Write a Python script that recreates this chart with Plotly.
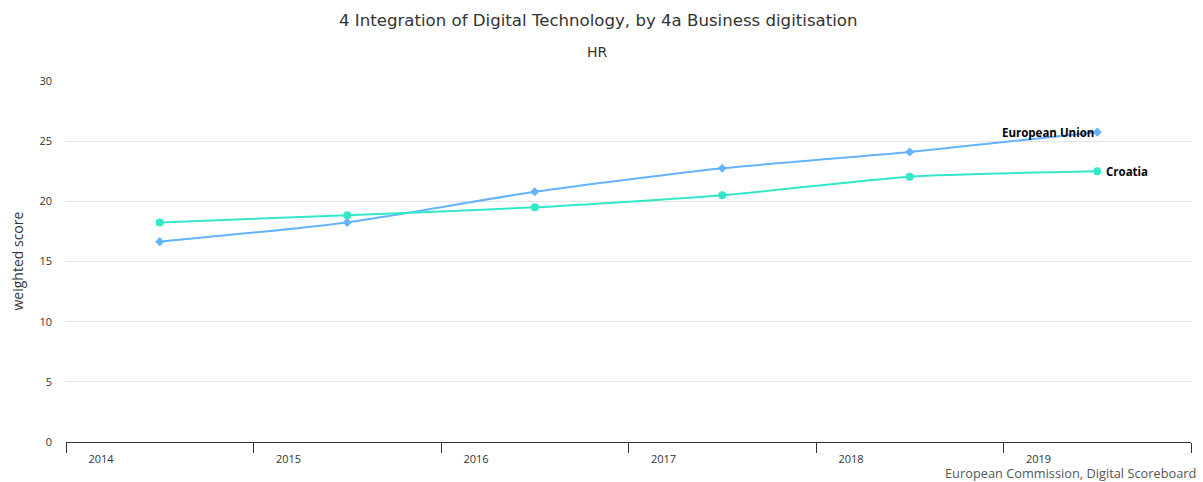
import plotly.graph_objects as go

years = ["2014", "2015", "2016", "2017", "2018", "2019"]
eu_values = [16.65, 18.25, 20.8, 22.75, 24.1, 25.75]
hr_values = [18.25, 18.85, 19.5, 20.5, 22.05, 22.5]
series_names = ["European Union", "Croatia"]

x_idx = list(range(len(years)))
FONT = "Open Sans, sans-serif"

fig = go.Figure()
fig.add_trace(go.Scatter(
    x=x_idx, y=eu_values, name=series_names[0], mode="lines+markers",
    line=dict(color="#63b3ff", width=2, shape="spline", smoothing=0.6),
    marker=dict(symbol="diamond", size=7, color="#63b3ff"),
))
fig.add_trace(go.Scatter(
    x=x_idx, y=hr_values, name=series_names[1], mode="lines+markers",
    line=dict(color="#33e8c8", width=2, shape="spline", smoothing=0.6),
    marker=dict(symbol="circle", size=8, color="#33e8c8"),
))

# end labels
fig.add_annotation(x=x_idx[-1], y=eu_values[-1], text="<b>" + series_names[0] + "</b>",
                   showarrow=False, xanchor="right", yanchor="middle", xshift=-1,
                   font=dict(family=FONT, size=11.5, color="#000"))
fig.add_annotation(x=x_idx[-1], y=hr_values[-1], text="<b>" + series_names[1] + "</b>",
                   showarrow=False, xanchor="left", yanchor="middle", xshift=7,
                   font=dict(family=FONT, size=11.5, color="#000"))

# titles (centered on the page, not the plot area)
fig.add_annotation(xref="paper", yref="paper", x=0.5, y=1, xanchor="center", yanchor="middle",
                   xshift=-31, yshift=81 - 20, showarrow=False,
                   text="4 Integration of Digital Technology, by 4a Business digitisation",
                   font=dict(family="DejaVu Sans, sans-serif", size=16.6, color="#333"))
fig.add_annotation(xref="paper", yref="paper", x=0.5, y=1, xanchor="center", yanchor="middle",
                   xshift=-31, yshift=81 - 52, showarrow=False, text="HR",
                   font=dict(family="DejaVu Sans, sans-serif", size=14, color="#333"))

# y-axis title
fig.add_annotation(xref="paper", yref="paper", x=0, y=0.5, xanchor="center", yanchor="middle",
                   xshift=17 - 66, textangle=-90, showarrow=False, text="weighted score",
                   font=dict(family=FONT, size=14, color="#333"))

# credits
fig.add_annotation(xref="paper", yref="paper", x=1.0, y=0, xanchor="right", yanchor="middle",
                   text="European Commission, Digital Scoreboard", showarrow=False,
                   xshift=7, yshift=-31,
                   font=dict(family=FONT, size=12.8, color="#555"))

tickvals = [i - 0.5 for i in range(len(years) + 1)]
ticktext = years + [""]

fig.update_layout(
    width=1203, height=482,
    paper_bgcolor="white", plot_bgcolor="white",
    margin=dict(l=66, r=12, t=81, b=40, autoexpand=False),
    showlegend=False,
    xaxis=dict(
        range=[-0.5, 5.5], tickvals=tickvals, ticktext=ticktext,
        ticks="outside", ticklen=10, tickcolor="#333", tickwidth=1,
        showline=True, linecolor="#333", linewidth=1,
        showgrid=False, zeroline=False, automargin=False,
        ticklabelshift=35, ticklabelstandoff=-3,
        tickfont=dict(family=FONT, size=11, color="#333"),
    ),
    yaxis=dict(
        range=[0, 30], tickvals=[0, 5, 10, 15, 20, 25, 30],
        showgrid=True, gridcolor="#e6e6e6", gridwidth=1,
        zeroline=False, showline=False, automargin=False,
        ticklabelstandoff=13,
        tickfont=dict(family=FONT, size=11, color="#333"),
    ),
)

fig.write_html("out.html",
               config={"displayModeBar": False},
               post_script="document.body.style.margin='0px';document.body.style.overflow='hidden';")
